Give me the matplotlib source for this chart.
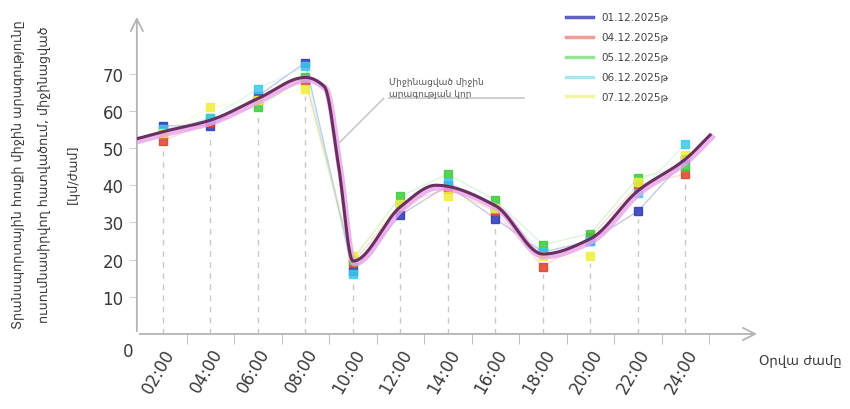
import numpy as np
import matplotlib.pyplot as plt

# hours (categories) and measured speeds per day
hours = ["02:00", "04:00", "06:00", "08:00", "10:00", "12:00",
         "14:00", "16:00", "18:00", "20:00", "22:00", "24:00"]
days = ["01.12.2025թ", "04.12.2025թ", "05.12.2025թ", "06.12.2025թ", "07.12.2025թ"]
d01 = [56, 56, 64, 73, 17, 32, 40, 31, 22, 25, 33, 47]
d04 = [52, 57, 63, 68, 19, 35, 39, 33, 18, 26, 40, 43]
d05 = [54, 58, 61, 69, 20, 37, 43, 36, 24, 27, 42, 45]
d06 = [55, 58, 66, 72, 16, 35, 41, 34, 22, 25, 38, 51]
d07 = [54, 61, 63, 66, 21, 35, 37, 34, 21, 21, 41, 48]

# averaged curve nodes (category position, value)
curve_pos = [-0.55, 0, 1, 2, 3, 3.4, 3.7, 4, 5, 5.75, 7, 8, 9, 10, 11, 11.52]
curve_val = [52.5, 54.4, 57.5, 63.3, 69.0, 66.5, 45, 19.6, 34.2, 40.0, 34.5, 21.5, 25.6, 38.5, 47, 53.5]

marker_cols = ["#2a36b8", "#e0402a", "#3ccc3c", "#3cc8ee", "#eef03a"]
legend_cols = ["#6060c8", "#f29a96", "#96e496", "#a6e8f2", "#f4f4a6"]


def pchip(x, y, xs):
    x = np.asarray(x, float); y = np.asarray(y, float)
    h = np.diff(x); d = np.diff(y) / h
    m = np.zeros_like(y)
    m[0], m[-1] = d[0], d[-1]
    for k in range(1, len(x) - 1):
        if d[k - 1] * d[k] > 0:
            w1 = 2 * h[k] + h[k - 1]; w2 = h[k] + 2 * h[k - 1]
            m[k] = (w1 + w2) / (w1 / d[k - 1] + w2 / d[k])
    idx = np.clip(np.searchsorted(x, xs) - 1, 0, len(h) - 1)
    t = (xs - x[idx]) / h[idx]
    h00 = 2*t**3 - 3*t**2 + 1; h10 = t**3 - 2*t**2 + t
    h01 = -2*t**3 + 3*t**2; h11 = t**3 - t**2
    return h00*y[idx] + h10*h[idx]*m[idx] + h01*y[idx+1] + h11*h[idx]*m[idx+1]


fig = plt.figure(figsize=(8.5, 4.1), dpi=100)
ax = fig.add_axes([0.161, 0.183, 0.733, 0.780])
xpos = np.arange(len(hours))
series = [d01, d04, d05, d06, d07]

# dashed guide lines under the points
for k in xpos:
    lo = min(s[k] for s in series)
    ax.plot([k, k], [0, lo - 2], color="#c8c8c8", lw=1, ls=(0, (4, 4)), zorder=1)

for s, mc, lc, lab in zip(series, marker_cols, legend_cols, days):
    ax.plot(xpos, s, color=lc, lw=1, alpha=0.35, zorder=2)
    ax.plot(xpos, s, ls="none", marker="s", ms=5.5, color=mc, alpha=0.85, zorder=3)
    ax.plot([], [], color=lc, lw=2.5, label=lab)

xs = np.linspace(curve_pos[0], curve_pos[-1], 600)
ys = pchip(curve_pos, curve_val, xs)
ax.plot(xs + 0.03, ys - 0.6, color="#eaa2ea", lw=4.5, alpha=0.8, zorder=4)
ax.plot(xs, ys, color="#68305f", lw=2.2, zorder=5)

ax.set_xlim(-0.55, 12.57)
ax.set_ylim(0, 86)
for sp in ax.spines.values():
    sp.set_visible(False)

gray = "#b4b4b4"
ax.annotate("", xy=(0, 1), xytext=(0, 0), xycoords="axes fraction",
            arrowprops=dict(arrowstyle="->", color=gray, lw=1.3, mutation_scale=22))
ax.annotate("", xy=(1, 0), xytext=(0, 0), xycoords="axes fraction",
            arrowprops=dict(arrowstyle="->", color=gray, lw=1.3, mutation_scale=22))

ax.set_yticks([10, 20, 30, 40, 50, 60, 70])
ax.tick_params(axis="y", length=6, color="#d0d0d0", labelsize=12, labelcolor="#3a3a3a")
ax.set_xticks(xpos)
ax.set_xticklabels(hours, rotation=60, ha="right", rotation_mode="anchor")
ax.set_xticks(xpos + 0.5, minor=True)
ax.tick_params(axis="x", which="major", length=0, labelsize=12, labelcolor="#3a3a3a", pad=8)
ax.tick_params(axis="x", which="minor", length=7, color=gray)
ax.text(-0.74, -4.5, "0", ha="center", va="center", fontsize=12, color="#3a3a3a", clip_on=False)
ax.text(12.55, -7, "Օրվա ժամը", ha="left", va="center", fontsize=9.5, color="#3a3a3a", clip_on=False)

fig.text(0.022, 0.575, "Տրանսպորտային հոսքի միջին արագությունը", rotation=90,
         ha="center", va="center", fontsize=9.2, color="#3a3a3a")
fig.text(0.052, 0.575, "ուսումնասիրվող հատվածում, միջինացված", rotation=90,
         ha="center", va="center", fontsize=9.2, color="#3a3a3a")
fig.text(0.085, 0.575, "[կմ/ժամ]", rotation=90,
         ha="center", va="center", fontsize=9.2, color="#3a3a3a")

# annotation with leader line
ax.annotate("Միջինացված միջին\nարագության կոր", xy=(3.68, 51), xytext=(4.75, 63.5),
            fontsize=6.5, color="#555555", ha="left", va="bottom", linespacing=1.4,
            arrowprops=dict(arrowstyle="-", color="#c8c8c8", lw=1.2,
                            connectionstyle="angle,angleA=0,angleB=45,rad=0"))
ax.plot([4.75, 7.6], [63.5, 63.5], color="#c8c8c8", lw=1.2, zorder=1)

ax.legend(loc="upper left", bbox_to_anchor=(0.655, 0.99), bbox_transform=fig.transFigure,
          frameon=False, fontsize=7.5, handlelength=2.6, labelspacing=0.95,
          labelcolor="#444444")

fig.savefig("out.png", dpi=100)
